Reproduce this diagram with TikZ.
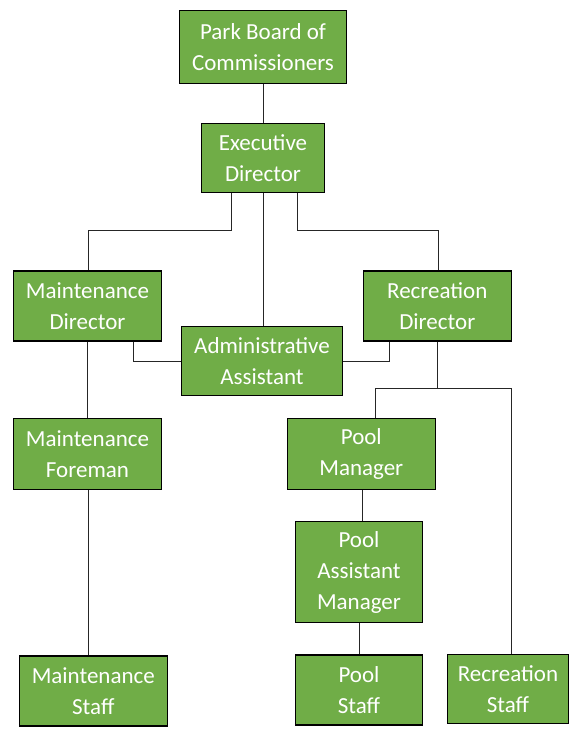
\documentclass[tikz,border=0pt]{standalone}
\usepackage{fontspec}
\setmainfont{Carlito}
\definecolor{boxgreen}{HTML}{70AD47}
\begin{document}
\begin{tikzpicture}[x=1pt,y=-1pt,
  box/.style={draw=black, line width=1.1pt, fill=boxgreen, text=white,
    align=center, inner sep=0pt, font=\fontsize{23}{31}\selectfont},
  link/.style={draw=black!85, line width=0.9pt}]
\useasboundingbox (0,0) rectangle (582,732);
\node[box, minimum width=167, minimum height=73] (pb) at (263,47) {Park Board of\\Commissioners};
\node[box, minimum width=123, minimum height=69] (ed) at (263,158) {Executive\\Director};
\node[box, minimum width=148, minimum height=70] (md) at (87.5,306) {Maintenance\\Director};
\node[box, minimum width=148, minimum height=70] (rd) at (437.3,306) {Recreation\\Director};
\node[box, minimum width=161, minimum height=69] (aa) at (262,361.3) {Administrative\\Assistant};
\node[box, minimum width=148, minimum height=71] (mf) at (87.5,454) {Maintenance\\Foreman};
\node[box, minimum width=148, minimum height=71] (pm) at (361.3,454) {Pool\\Manager};
\node[box, minimum width=127, minimum height=101] (pam) at (359,572) {Pool\\Assistant\\Manager};
\node[box, minimum width=148, minimum height=70] (ms) at (93.3,691) {Maintenance\\Staff};
\node[box, minimum width=127, minimum height=70] (ps) at (359,690) {Pool\\Staff};
\node[box, minimum width=121, minimum height=69] (rs) at (508,689) {Recreation\\Staff};
\coordinate (split) at (437.3,388.7);
\begin{scope}[on background layer/.style={}]
\end{scope}
\draw[link] (pb.south) -- (ed.north);
\draw[link] ([xshift=-32pt]ed.south) |- ([xshift=1.2pt,yshift=40pt]md.north) -- ([xshift=1.2pt]md.north);
\draw[link] (ed.south) -- (ed.south |- aa.north);
\draw[link] ([xshift=34pt]ed.south) |- ([xshift=1pt,yshift=40pt]rd.north) -- ([xshift=1pt]rd.north);
\draw[link] ([xshift=46pt]md.south) |- (aa.west);
\draw[link] ([xshift=-48pt]rd.south) |- (aa.east);
\draw[link] (md.south) -- (mf.north);
\draw[link] ([xshift=1pt]mf.south) -- ([xshift=1pt]mf.south |- ms.north);
\draw[link] (rd.south) -- (split);
\draw[link] ([xshift=14.4pt]pm.north) |- (split) -| ([xshift=3pt]rs.north);
\draw[link] ([xshift=1.4pt]pm.south) -- ([xshift=1.4pt]pm.south |- pam.north);
\draw[link] (pam.south) -- (ps.north);
\end{tikzpicture}
\end{document}
